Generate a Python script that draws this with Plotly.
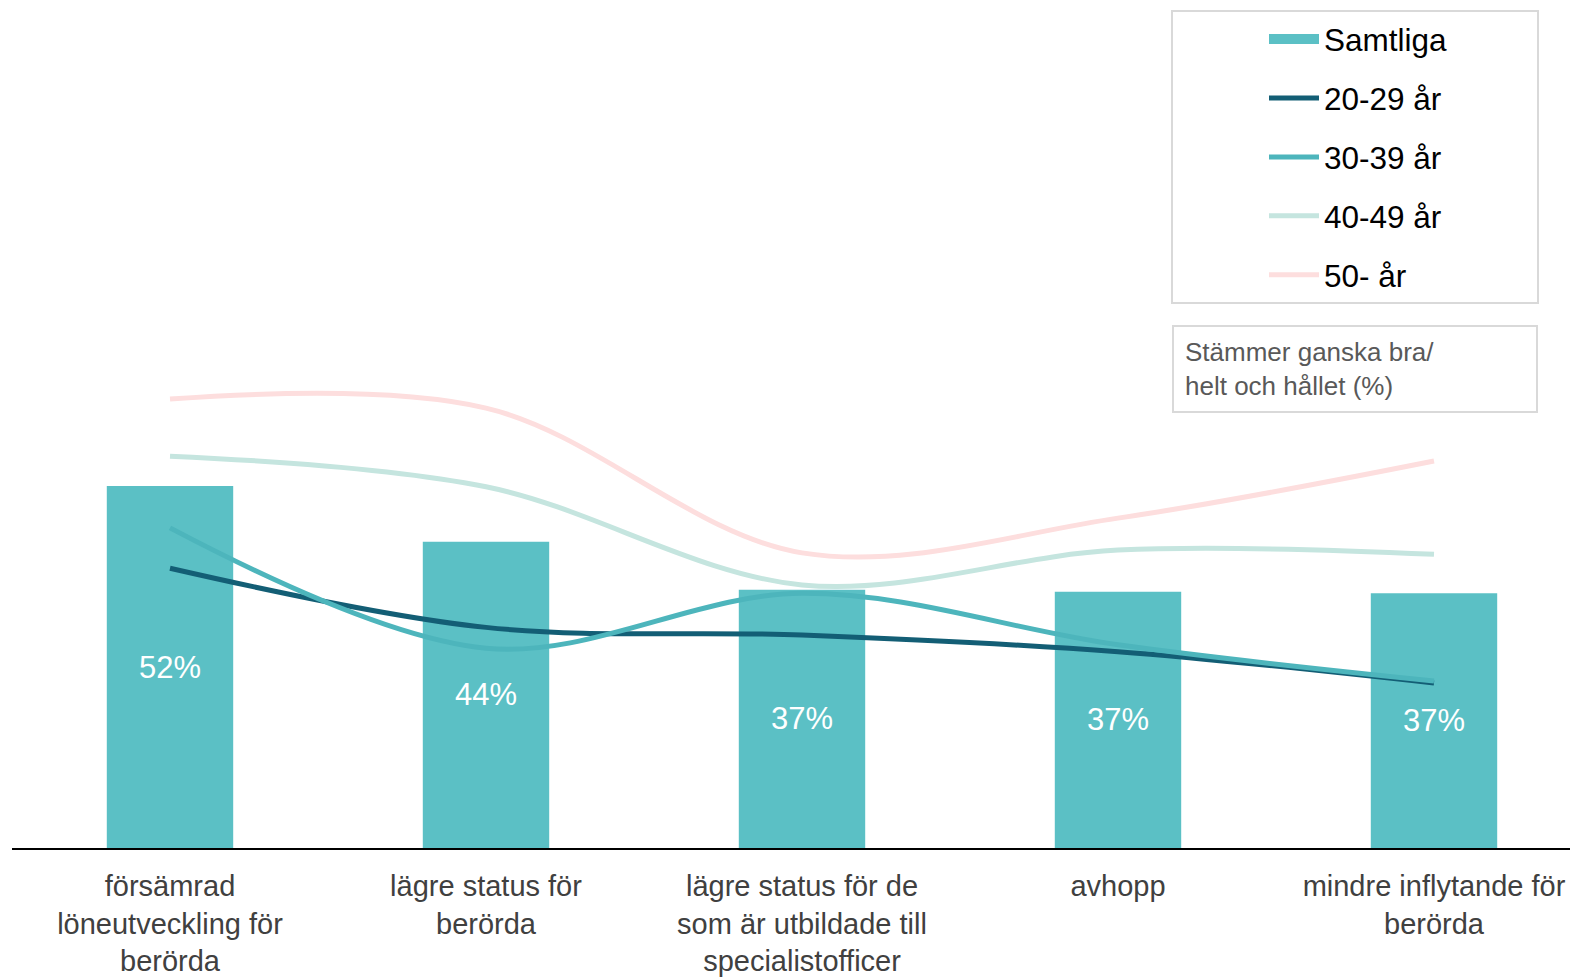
import plotly.graph_objects as go

categories = [
    "försämrad<br>löneutveckling för<br>berörda",
    "lägre status för<br>berörda",
    "lägre status för de<br>som är utbildade till<br>specialistofficer",
    "avhopp",
    "mindre inflytande för<br>berörda",
]
samtliga = [52, 44, 37.1, 36.8, 36.6]
samtliga_labels = ["52%", "44%", "37%", "37%", "37%"]
age_20_29 = [40.2, 31.7, 30.6, 28.2, 23.7]
age_30_39 = [46.0, 28.7, 36.6, 29.2, 24.0]
age_40_49 = [56.3, 51.9, 37.8, 42.8, 42.2]
age_50 = [64.5, 63.2, 42.4, 47.4, 55.6]

FONT = "Liberation Sans, Arial, sans-serif"
BAR_COLOR = "#5BC0C5"
x = list(range(len(categories)))

fig = go.Figure()
fig.add_trace(go.Bar(
    x=x, y=samtliga, name="Samtliga", width=0.4,
    marker=dict(color=BAR_COLOR, line=dict(width=0)),
    text=samtliga_labels, textposition="inside", insidetextanchor="middle",
    textfont=dict(color="white", size=31, family=FONT),
    showlegend=False,
))
# legend entry for the bar series (wide swatch)
fig.add_trace(go.Scatter(
    x=[None], y=[None], name="Samtliga", mode="lines",
    line=dict(color=BAR_COLOR, width=17),
    legendgroup="a", legendrank=1,
))
series = [
    ("20-29 år", age_20_29, "#135E75", "b"),
    ("30-39 år", age_30_39, "#4DB5BC", "c"),
    ("40-49 år", age_40_49, "#C5E5DF", "d"),
    ("50- år", age_50, "#FDDEDE", "e"),
]
draw_order = [3, 2, 0, 1]
for i in draw_order:
    name, vals, col, grp = series[i]
    fig.add_trace(go.Scatter(
        x=x, y=vals, name=name, mode="lines",
        line=dict(color=col, width=5, shape="spline", smoothing=1.0),
        legendgroup=grp, legendrank=i + 2,
    ))

W, H = 1570, 978
L, T, B = 12, 10, 130
plot_w = W - L
plot_h = H - T - B
px_per_unit = 6.96
cat_px = 316

def px(xp):
    return (xp - L) / plot_w

def py(yp):
    return 1 - (yp - T) / plot_h

fig.update_layout(
    width=W, height=H,
    margin=dict(l=L, r=0, t=T, b=B, autoexpand=False),
    paper_bgcolor="white", plot_bgcolor="white",
    font=dict(family=FONT, color="#404040"),
    barmode="overlay",
    showlegend=True,
    legend=dict(
        x=px(1264), y=py(12), xanchor="left", yanchor="top",
        font=dict(size=31.5, color="black", family=FONT),
        bgcolor="rgba(0,0,0,0)", borderwidth=0,
        tracegroupgap=15, traceorder="grouped",
        itemwidth=50,
    ),
    xaxis=dict(
        range=[-0.5, -0.5 + plot_w / cat_px],
        tickmode="array", tickvals=x, ticktext=categories,
        tickfont=dict(size=29, color="#404040", family=FONT),
        showgrid=False, zeroline=False,
        showline=True, linecolor="black", linewidth=2,
        ticks="", ticklabelstandoff=11, ticklabeloverflow="allow",
        automargin=False, fixedrange=True,
    ),
    yaxis=dict(
        range=[0, plot_h / px_per_unit],
        visible=False, showgrid=False, zeroline=False,
        automargin=False, fixedrange=True,
    ),
    shapes=[dict(
        type="rect", xref="paper", yref="paper",
        x0=px(1172), x1=px(1538), y0=py(303), y1=py(11),
        line=dict(color="#D9D9D9", width=2), fillcolor="rgba(0,0,0,0)",
    )],
    annotations=[dict(
        xref="paper", yref="paper", x=px(1172), y=py(325),
        xanchor="left", yanchor="top", showarrow=False,
        text="Stämmer ganska bra/<br>helt och hållet (%)",
        align="left", width=340, height=62, borderpad=11,
        bordercolor="#D9D9D9", borderwidth=2,
        font=dict(size=26, color="#595959", family=FONT),
    )],
)

fig.write_html(
    "out.html",
    config={"displayModeBar": False},
    post_script="document.body.style.margin='0';document.body.style.overflow='hidden';",
)
